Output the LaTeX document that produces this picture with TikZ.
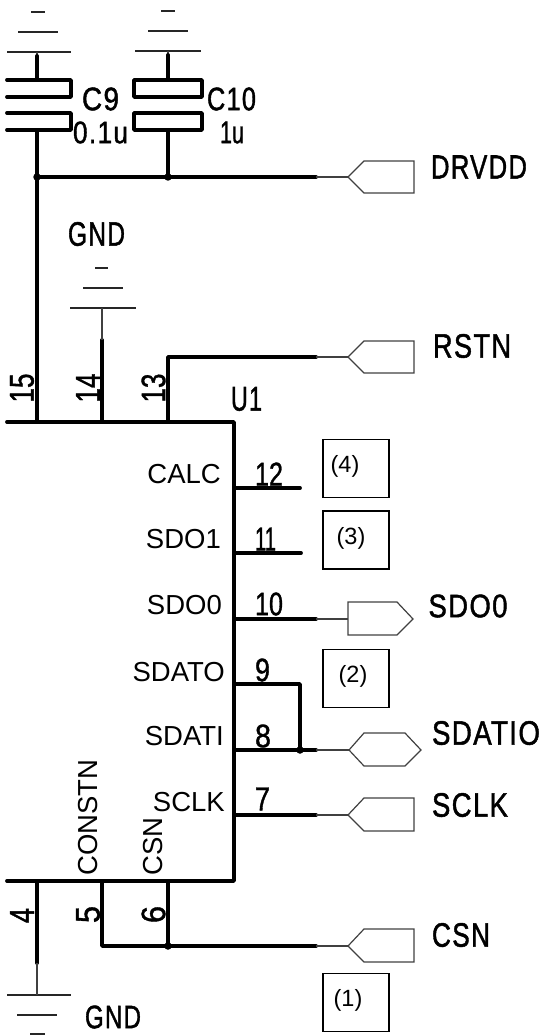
\documentclass[tikz,border=0pt]{standalone}
\usepackage{fontspec}
\usepackage{graphicx}
\setmainfont{Liberation Sans}
\newfontfamily\cadfont[LetterSpace=5,FakeBold=1.5]{Liberation Sans}
\newfontfamily\digfont[FakeBold=1.2]{Liberation Sans}
\newcommand{\cadtxt}[3]{\resizebox*{#1pt}{#2pt}{\cadfont #3}}
\newcommand{\digtxt}[3]{\resizebox*{#1pt}{#2pt}{\digfont #3}}
\tikzset{
  wire/.style={line width=3.8pt,line cap=round,line join=round},
  stub/.style={line width=1.2pt,draw=black!75},
  rail/.style={line width=1.3pt,draw=black!85},
  port/.style={line width=1.2pt,draw=black!75,line join=miter},
  note/.style={draw,line width=1.3pt,minimum width=66pt,minimum height=58pt,inner sep=0pt},
  pinname/.style={inner sep=0pt,font=\fontsize{27.5}{29}\selectfont},
  numtxt/.style={inner sep=0pt,font=\fontsize{23.5}{25}\selectfont},
  cad/.style={inner sep=0pt},
  dot/.style={circle,fill=black,inner sep=0pt,minimum size=7.5pt},
}
\begin{document}
\begin{tikzpicture}[x=1pt,y=-1pt]
\useasboundingbox (0,0) rectangle (544,1035);

% named points
\coordinate (c9t) at (37,52);   \coordinate (c9a) at (37,80);  \coordinate (c9b) at (37,131);
\coordinate (c10t) at (168,51); \coordinate (c10a) at (168,80);\coordinate (c10b) at (168,131);
\coordinate (j9) at (37,177);   \coordinate (j10) at (168,177);
\coordinate (p15) at (37,422);  \coordinate (p14) at (102,422);\coordinate (p13) at (168,422);
\coordinate (g14s) at (102,340);\coordinate (g14) at (102,308);
\coordinate (p4) at (37,881);   \coordinate (p5) at (102,881); \coordinate (p6) at (168,881);
\coordinate (g4s) at (37,963);  \coordinate (g4) at (37,995);
\coordinate (c5) at (102,946);  \coordinate (j6) at (168,946);
\coordinate (r12) at (234,488); \coordinate (e12) at (300,488);
\coordinate (r11) at (234,553); \coordinate (e11) at (301,553);
\coordinate (r10) at (234,619);
\coordinate (r9) at (234,684);  \coordinate (c9p) at (300,684);
\coordinate (r8) at (234,750);  \coordinate (j8) at (300,750);
\coordinate (r7) at (234,815);
\coordinate (rr) at (168,357);

% port ends of the thick wires
\coordinate (wDR) at (316,177); \coordinate (tDR) at (348,177);
\coordinate (wRS) at (316,357); \coordinate (tRS) at (348,357);
\coordinate (w10) at (316,619); \coordinate (t10) at (348,619);
\coordinate (w8) at (316,750);  \coordinate (t8) at (349,750);
\coordinate (w7) at (316,815);  \coordinate (t7) at (348,815);
\coordinate (wCS) at (316,946); \coordinate (tCS) at (348,946);

% U1 body
\draw[wire] (7,422) -- (234,422) -- (234,881) -- (7,881);

% capacitors
\draw[wire] (7,80) -- (71,80) -- (71,97) -- (7,97);
\draw[wire] (7,113) -- (71,113) -- (71,130) -- (7,130);
\draw[wire] (134,80) rectangle (202,97);
\draw[wire] (134,113) rectangle (202,130);

% ground symbols
\draw[rail] (7,52) -- (71,52) (18,32) -- (58,32) (31,12) -- (45,12);
\draw[rail] (135,51) -- (201,51) (148,31) -- (188,31) (161,11) -- (175,11);
\draw[rail] (70,308) -- (136,308) (83,288) -- (123,288) (95,268) -- (108,268);
\draw[rail] (7,995) -- (71,995) (17,1015) -- (57,1015) (30,1034) -- (45,1034);

% wires
\draw[stub] (c9t) -- ++(0,4);
\draw[stub] (c10t) -- ++(0,4);
\draw[wire] (37,56) -- (c9a);
\draw[wire] (168,55) -- (c10a);
\draw[wire] (c9b) -- (j9) -- (p15);
\draw[wire] (c10b) -- (j10);
\draw[wire] (j9) -- (wDR);
\draw[stub] (wDR) -- (tDR);
\draw[wire] (p14) -- (g14s);
\draw[stub] (g14s) -- (g14);
\draw[wire] (p13) -- (rr) -- (wRS);
\draw[stub] (wRS) -- (tRS);
\draw[wire] (r12) -- (e12);
\draw[wire] (r11) -- (e11);
\draw[wire] (r10) -- (w10);
\draw[stub] (w10) -- (t10);
\draw[wire] (r9) -- (c9p) -- (j8);
\draw[wire] (r8) -- (w8);
\draw[stub] (w8) -- (t8);
\draw[wire] (r7) -- (w7);
\draw[stub] (w7) -- (t7);
\draw[wire] (p4) -- (g4s);
\draw[stub] (g4s) -- (g4);
\draw[wire] (p5) -- (c5) -- (wCS);
\draw[wire] (p6) -- (j6);
\draw[stub] (wCS) -- (tCS);

% junctions
\node[dot] (d9) at (j9) {};
\node[dot] (d10) at (j10) {};
\node[dot] (d8) at (j8) {};
\node[dot] (d6) at (j6) {};

% ports
\draw[port] (tDR) -- ++(16,-16) -- ++(50,0) -- ++(0,32) -- ++(-50,0) -- cycle;
\draw[port] (tRS) -- ++(16,-16) -- ++(50,0) -- ++(0,32) -- ++(-50,0) -- cycle;
\draw[port] (t10) -- ++(0,-17) -- ++(49,0) -- ++(16,17) -- ++(-16,16) -- ++(-49,0) -- cycle;
\draw[port] (t8) -- ++(15,-17) -- ++(41,0) -- ++(16,17) -- ++(-16,16) -- ++(-41,0) -- cycle;
\draw[port] (t7) -- ++(16,-17) -- ++(50,0) -- ++(0,33) -- ++(-50,0) -- cycle;
\draw[port] (tCS) -- ++(16,-17) -- ++(50,0) -- ++(0,33) -- ++(-50,0) -- cycle;

% note boxes
\node[note] (n4) at (356,468.5) {};
\node[note] (n3) at (356,540) {};
\node[note] (n2) at (356,678.5) {};
\node[note] (n1) at (356,1002.5) {};
\node[numtxt] (t4) at (345,466) {(4)};
\node[numtxt] (t3) at (351,538) {(3)};
\node[numtxt] (t2) at (353,676) {(2)};
\node[numtxt] (t1) at (348,1000) {(1)};

% pin names
\node[pinname,anchor=base east] (lCALC) at (221,483) {CALC};
\node[pinname,anchor=base east] (lSDO1) at (221,548) {SDO1};
\node[pinname,anchor=base east] (lSDO0) at (222,614) {SDO0};
\node[pinname,anchor=base east] (lSDATO) at (225,681) {SDATO};
\node[pinname,anchor=base east] (lSDATI) at (224,745) {SDATI};
\node[pinname,anchor=base east] (lSCLK) at (225,811) {SCLK};
\node[pinname,rotate=90,anchor=base west] (lCONSTN) at (97,876) {CONSTN};
\node[pinname,rotate=90,anchor=base west] (lCSN) at (162,876) {CSN};

% CAD-font labels
\node[cad] (lDRVDD) at (479,167) {\cadtxt{96}{23}{DRVDD}};
\node[cad] (lRSTN) at (472,346) {\cadtxt{78}{24}{RSTN}};
\node[cad] (lSDO) at (468,606) {\cadtxt{79}{23}{SDO0}};
\node[cad] (lSDATIO) at (486,733) {\cadtxt{108}{24}{SDATIO}};
\node[cad] (lSCLKo) at (470,805) {\cadtxt{76}{24}{SCLK}};
\node[cad] (lCSNo) at (461,935) {\cadtxt{58}{24}{CSN}};
\node[cad] (lGNDa) at (96.5,234) {\cadtxt{57}{24}{GND}};
\node[cad] (lGNDb) at (113,1017) {\cadtxt{56}{23}{GND}};
\node[cad] (lC9) at (100.5,99) {\cadtxt{37}{23}{C9}};
\node[cad] (l01) at (100.5,132.5) {\cadtxt{55}{22}{0.1u}};
\node[cad] (lC10) at (231.5,99) {\cadtxt{49}{23}{C10}};
\node[cad] (l1u) at (232,132.5) {\digtxt{24}{22}{1u}};
\node[cad] (lU1) at (246.5,399) {\cadtxt{31}{24}{U1}};
\node[cad] (n12) at (269,474) {\digtxt{28}{23}{12}};
\node[cad] (n11) at (265.5,539) {\digtxt{21}{23}{11}};
\node[cad] (n10) at (269,604) {\digtxt{28}{23}{10}};
\node[cad] (n9) at (262.5,670) {\digtxt{15}{23}{9}};
\node[cad] (n8) at (263,736) {\digtxt{16}{23}{8}};
\node[cad] (n7) at (262.5,799) {\digtxt{15}{23}{7}};
\node[cad,rotate=90] (n15) at (22,388) {\digtxt{29}{24}{15}};
\node[cad,rotate=90] (n14) at (88,388) {\digtxt{29}{24}{14}};
\node[cad,rotate=90] (n13) at (153.5,388) {\digtxt{29}{24}{13}};
\node[cad,rotate=90] (n4l) at (22,915.5) {\digtxt{15}{24}{4}};
\node[cad,rotate=90] (n5l) at (88,914.5) {\digtxt{17}{24}{5}};
\node[cad,rotate=90] (n6l) at (153.5,914.5) {\digtxt{17}{24}{6}};
\end{tikzpicture}
\end{document}
